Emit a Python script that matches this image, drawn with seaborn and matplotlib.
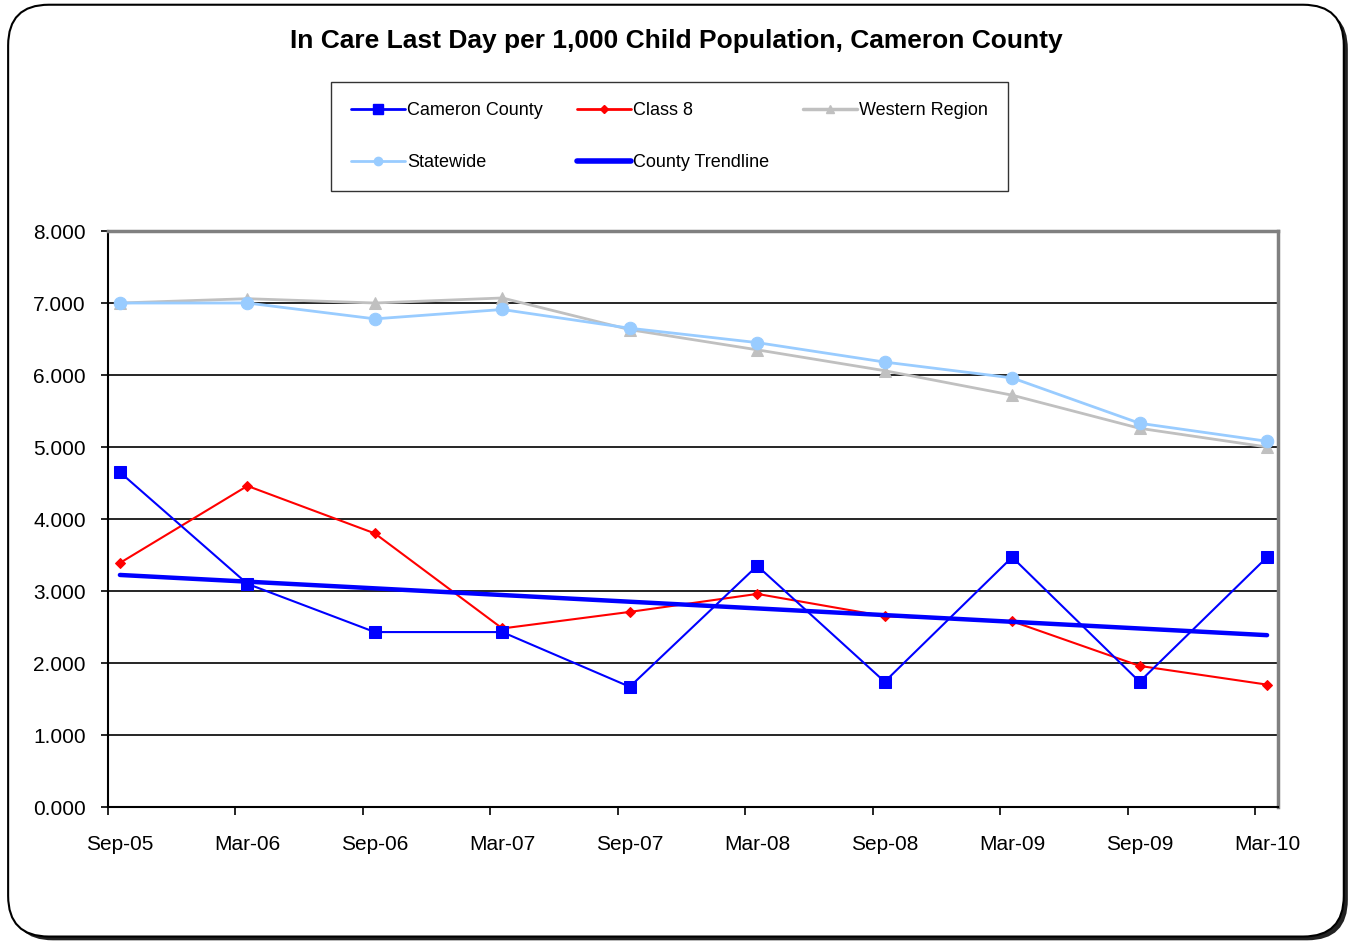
import numpy as np
import pandas as pd
import matplotlib
matplotlib.use("Agg")
import matplotlib.pyplot as plt
from matplotlib.patches import FancyBboxPatch
from matplotlib.lines import Line2D
import seaborn as sns

categories = ["Sep-05", "Mar-06", "Sep-06", "Mar-07", "Sep-07",
              "Mar-08", "Sep-08", "Mar-09", "Sep-09", "Mar-10"]
cameron = [4.65, 3.10, 2.43, 2.43, 1.67, 3.35, 1.74, 3.47, 1.74, 3.47]
class8 = [3.39, 4.46, 3.80, 2.48, 2.71, 2.96, 2.65, 2.58, 1.96, 1.70]
western = [7.00, 7.06, 7.00, 7.07, 6.63, 6.35, 6.06, 5.72, 5.26, 5.00]
statewide = [7.00, 7.00, 6.78, 6.91, 6.65, 6.45, 6.18, 5.96, 5.33, 5.08]
y_ticks = [0, 1, 2, 3, 4, 5, 6, 7, 8]

sns.set_theme(style="white")
plt.rcParams['font.family'] = ['Liberation Sans', 'DejaVu Sans']
plt.rcParams['text.color'] = 'black'
plt.rcParams['xtick.color'] = 'black'
plt.rcParams['ytick.color'] = 'black'

df = pd.DataFrame({"x": np.arange(len(categories)), "cameron": cameron,
                   "class8": class8, "western": western, "statewide": statewide})

fig = plt.figure(figsize=(13.56, 9.46), dpi=100)
fig.patch.set_facecolor("white")

# outer rounded border with shadow
shadow = FancyBboxPatch((0.009, 0.006), 0.985, 0.985, boxstyle="round,pad=0,rounding_size=0.03",
                        transform=fig.transFigure, facecolor="#222222", edgecolor="none", zorder=0,
                        mutation_aspect=1356/946)
fig.patches.append(shadow)
border = FancyBboxPatch((0.006, 0.01), 0.985, 0.985, boxstyle="round,pad=0,rounding_size=0.03",
                        transform=fig.transFigure, facecolor="white", edgecolor="black", linewidth=1.5,
                        zorder=1, mutation_aspect=1356/946)
fig.patches.append(border)

ax = fig.add_axes([0.0796, 0.1469, 0.9425 - 0.0796, 0.7558 - 0.1469])
ax.set_zorder(2)
ax.set_facecolor("white")

sns.lineplot(data=df, x="x", y="western", ax=ax, color="#C0C0C0", lw=2, marker="^",
             markersize=8, markeredgecolor="#C0C0C0", zorder=3)
sns.lineplot(data=df, x="x", y="statewide", ax=ax, color="#99CCFF", lw=2, marker="o",
             markersize=9, markeredgecolor="#99CCFF", zorder=4)
sns.lineplot(data=df, x="x", y="class8", ax=ax, color="#FF0000", lw=1.5, marker="D",
             markersize=5.5, markeredgecolor="#FF0000", zorder=5)
sns.lineplot(data=df, x="x", y="cameron", ax=ax, color="#0000FF", lw=1.5, marker="s",
             markersize=8.5, markeredgecolor="#0000FF", zorder=6)
sns.regplot(data=df, x="x", y="cameron", ax=ax, scatter=False, ci=None,
            line_kws={"color": "#0000FF", "lw": 3.2, "zorder": 7})

ax.set_xlim(-0.094, 9.086)
ax.set_ylim(0, 8)
ax.set_yticks(y_ticks)
ax.set_yticklabels([f"{v:.3f}" for v in y_ticks])
ax.set_xticks(np.arange(len(categories)))
ax.set_xticklabels(categories)
ax.set_xticks(np.arange(len(categories)) - 0.094, minor=True)
ax.tick_params(axis="x", which="major", length=0, pad=20, labelsize=15)
ax.tick_params(axis="x", which="minor", length=6, width=1.2, color="black", direction="out",
               bottom=True)
ax.tick_params(axis="y", length=5, width=1.2, color="black", direction="out", left=True,
               pad=11, labelsize=15)
ax.set_xlabel("")
ax.set_ylabel("")
ax.grid(axis="y", color="black", lw=1.2)
ax.set_axisbelow(True)
for side in ["left", "bottom"]:
    ax.spines[side].set_color("black")
    ax.spines[side].set_linewidth(1.5)
for side in ["top", "right"]:
    ax.spines[side].set_color("#808080")
    ax.spines[side].set_linewidth(2.5)

fig.text(0.4985, 0.957, "In Care Last Day per 1,000 Child Population, Cameron County",
         ha="center", va="center", fontsize=19, fontweight="bold", color="black", zorder=3)

handles = [
    Line2D([], [], color="#0000FF", lw=2, marker="s", markersize=7),
    Line2D([], [], color="#FF0000", lw=2, marker="D", markersize=4),
    Line2D([], [], color="#C0C0C0", lw=2.5, marker="^", markersize=6),
    Line2D([], [], color="#99CCFF", lw=2, marker="o", markersize=6),
    Line2D([], [], color="#0000FF", lw=4),
    Line2D([], [], color="none"),
]
labels = ["Cameron County", "Class 8", "Western Region", "Statewide", "County Trendline", ""]
order = [0, 3, 1, 4, 2, 5]
leg = fig.legend([handles[i] for i in order], [labels[i] for i in order],
                 loc="center", bbox_to_anchor=(0.4937, 0.8557), ncol=3, frameon=True,
                 fancybox=False, edgecolor="black", fontsize=13, handlelength=3.0,
                 handletextpad=0.1, columnspacing=1.9, labelspacing=1.95,
                 borderpad=1.1, borderaxespad=0)
leg.get_frame().set_linewidth(1.0)
leg.set_zorder(3)

fig.savefig("out.png", dpi=100, facecolor="white")
